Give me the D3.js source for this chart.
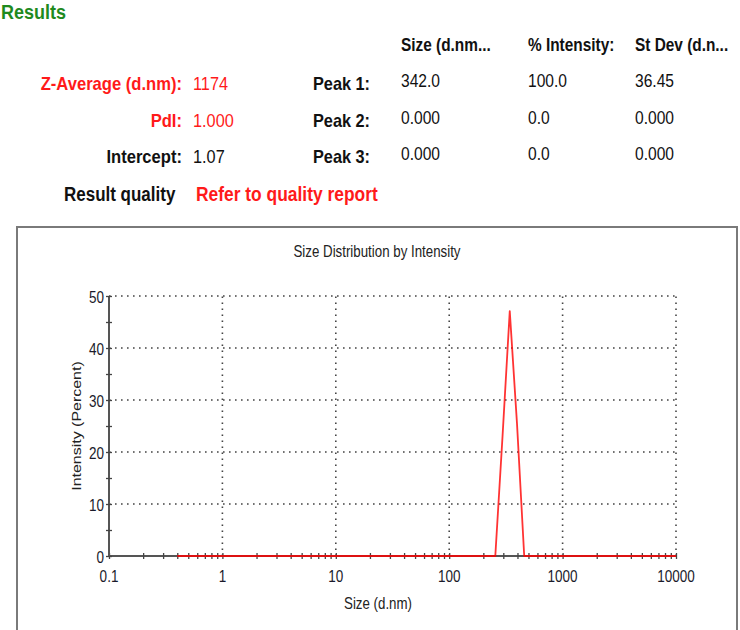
<!DOCTYPE html>
<html><head><meta charset="utf-8">
<script src="https://cdn.jsdelivr.net/npm/d3@7/dist/d3.min.js"></script>
<style>
html,body{margin:0;padding:0;background:#fff;}
svg{display:block;font-family:"Liberation Sans",Arial,sans-serif;}
</style></head>
<body>
<svg id="c" width="740" height="630"></svg>
<script>
// ---- data ----
const sizes = [0.4,0.4632,0.5365,0.6213,0.7195,0.8332,0.9649,1.117,1.294,1.499,1.736,2.010,2.328,2.696,3.122,3.615,4.187,4.849,5.615,6.503,7.531,8.721,10.10,11.70,13.54,15.69,18.17,21.04,24.36,28.21,32.67,37.84,43.82,50.75,58.77,68.06,78.82,91.28,105.7,122.4,141.8,164.2,190.1,220.2,255.0,295.3,342.0,396.1,458.7,531.2,615.1,712.4,825.0,955.4,1106,1281,1484,1718,1990,2305,2669,3091,3580,4145,4801,5560,6439,7456,8635,10000];
const intensity = [0,0,0,0,0,0,0,0,0,0,0,0,0,0,0,0,0,0,0,0,0,0,0,0,0,0,0,0,0,0,0,0,0,0,0,0,0,0,0,0,0,0,0,0,0,23.0,47.1,25.5,0,0,0,0,0,0,0,0,0,0,0,0,0,0,0,0,0,0,0,0,0,0];
const xMajorTicks = [0.1,1,10,100,1000,10000];
const xTickLabels = ["0.1","1","10","100","1000","10000"];
const yMajorTicks = [0,10,20,30,40,50];
const tableHeaders = ["Size (d.nm...","% Intensity:","St Dev (d.n..."];
const peakLabels = ["Peak 1:","Peak 2:","Peak 3:"];
const peakSize = ["342.0","0.000","0.000"];
const peakIntensity = ["100.0","0.0","0.0"];
const peakStDev = ["36.45","0.000","0.000"];
const leftLabels = ["Z-Average (d.nm):","PdI:","Intercept:"];
const leftValues = ["1174","1.000","1.07"];
const leftRed = [true,true,false];

const svg = d3.select("#c");
const RED = "#ff1a1a";
const SY = 1.15; // vertical stretch of source text

function txt(x, y, s, opt) {
  opt = opt || {};
  return svg.append("text")
    .attr("transform", `translate(${x},${y}) scale(1,${opt.sy || SY})`)
    .attr("text-anchor", opt.anchor || "start")
    .attr("font-size", opt.size || 15)
    .attr("font-weight", opt.bold ? "bold" : "normal")
    .attr("fill", opt.color || "#111")
    .text(s);
}

// ---- results header ----
txt(1, 19, "Results", {size: 18, bold: true, color: "#1e8a1e", sy:1.1});
const colX = [401, 528, 635];
tableHeaders.forEach((h,i)=> txt(colX[i], 51, h, {bold:true, size:15.4}));
const rowY = [90, 127, 163];
leftLabels.forEach((l,i)=>{
  txt(182, rowY[i], l, {bold:true, size:16.6, anchor:"end", color: leftRed[i]?RED:"#111"});
  txt(193, rowY[i], leftValues[i], {size:16.3, color: leftRed[i]?RED:"#111"});
  txt(313, rowY[i], peakLabels[i], {bold:true, size:16.3});
  txt(colX[0], rowY[i]-3, peakSize[i], {size:15.6});
  txt(colX[1], rowY[i]-3, peakIntensity[i], {size:15.6});
  txt(colX[2], rowY[i]-3, peakStDev[i], {size:15.6});
});
txt(64, 201, "Result quality", {bold:true, size:17});
txt(196, 201, "Refer to quality report", {bold:true, size:17.4, color: RED});

// ---- chart frame ----
svg.append("rect").attr("x",17).attr("y",227).attr("width",720).attr("height",420)
  .attr("fill","none").attr("stroke","#7a7a7a").attr("stroke-width",2);

txt(377, 257, "Size Distribution by Intensity", {size:13.3, anchor:"middle", color:"#222", sy:1.2});

// ---- scales ----
const x = d3.scaleLog().domain([0.1,10000]).range([109,676]);
const y = d3.scaleLinear().domain([0,50]).range([556,296]);

// grid (dotted)
const grid = svg.append("g").attr("stroke","#444").attr("stroke-width",1.6).attr("stroke-dasharray","1.6,4.4");
xMajorTicks.slice(1).forEach(v=>{
  grid.append("line").attr("x1",x(v)).attr("x2",x(v)).attr("y1",y(0)).attr("y2",y(50));
});
yMajorTicks.slice(1).forEach(v=>{
  grid.append("line").attr("x1",x(0.1)).attr("x2",x(10000)).attr("y1",y(v)).attr("y2",y(v));
});

// x axis line + crossing ticks
const xAxis = svg.append("g").attr("transform",`translate(0,${y(0)})`)
  .call(d3.axisBottom(x).tickValues(x.ticks()).tickSize(3).tickFormat(""));
xAxis.select(".domain").attr("stroke","#555").attr("stroke-width",2).attr("d",`M${x(0.1)},0H${x(10000)}`);
xAxis.selectAll(".tick line").attr("y1",-3).attr("y2",3).attr("stroke","#444").attr("stroke-width",1.3);

// y axis line + crossing ticks
const yAxis = svg.append("g").attr("transform",`translate(${x(0.1)},0)`)
  .call(d3.axisLeft(y).tickValues(y.ticks(10)).tickSize(3).tickFormat(""));
yAxis.select(".domain").attr("stroke","#555").attr("stroke-width",2).attr("d",`M0,${y(0)}V${y(50)}`);
yAxis.selectAll(".tick line").attr("x1",-3).attr("x2",3).attr("stroke","#444").attr("stroke-width",1.3);

// tick labels
xMajorTicks.forEach((v,i)=> txt(x(v), 582, xTickLabels[i], {size:13.5, anchor:"middle", color:"#1a1a2a", sy:1.2}));
yMajorTicks.forEach(v=> txt(x(0.1)-5, y(v)+7, String(v), {size:13.5, anchor:"end", color:"#1a1a2a", sy:1.2}));

// axis titles
txt(378, 609, "Size (d.nm)", {size:13.3, anchor:"middle", color:"#222", sy:1.2});
svg.append("text")
  .attr("transform", `translate(81,426) scale(1,1.2) rotate(-90)`)
  .attr("text-anchor","middle").attr("font-size",13.3).attr("fill","#222")
  .text("Intensity (Percent)");

// data line
const pts = sizes.map((s,i)=>({s, v:intensity[i]}));
svg.append("path").datum(pts)
  .attr("fill","none").attr("stroke","#ff0000").attr("stroke-opacity",0.8).attr("stroke-width",1.8)
  .attr("stroke-linejoin","round")
  .attr("d", d3.line().x(d=>x(d.s)).y(d=>y(d.v)));
</script>
</body></html>
